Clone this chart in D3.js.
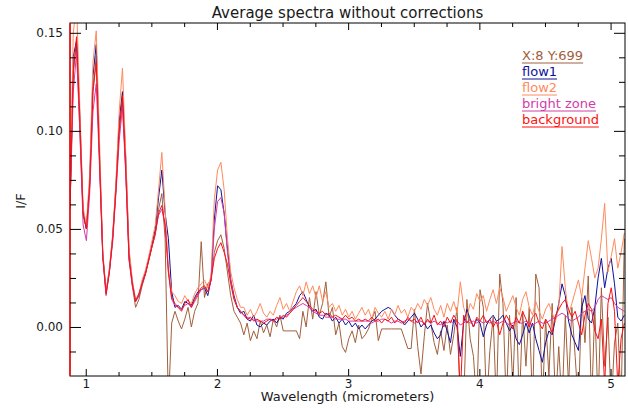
<!DOCTYPE html>
<html>
<head>
<meta charset="utf-8">
<script src="https://cdn.jsdelivr.net/npm/d3@7"></script>
<style>
  body { margin: 0; background: #fff; }
  text { font-family: "DejaVu Sans", sans-serif; fill: #1a1a1a; }
</style>
</head>
<body>
<svg id="chart" width="628" height="408"></svg>
<script>
// channel wavelengths (micrometers)
var wavelengths = [
  0.880,0.905,0.930,0.955,0.980,
  1.005,1.030,1.055,1.080,1.105,1.130,1.155,1.180,1.205,1.230,1.255,1.280,1.305,1.330,1.355,1.380,1.405,1.430,1.455,1.480,
  1.505,1.530,1.555,1.580,1.605,1.630,1.655,1.680,1.705,1.730,1.755,1.780,1.805,1.830,1.855,1.880,1.905,1.930,1.955,1.980,
  2.005,2.030,2.055,2.080,2.105,2.130,2.155,2.180,2.205,2.230,2.255,2.280,2.305,2.330,2.355,2.380,2.405,2.430,2.455,2.480,
  2.505,2.530,2.555,2.580,2.605,2.630,2.655,2.680,2.705,2.730,2.755,2.780,2.805,2.830,2.855,2.880,2.905,2.930,2.955,2.980,
  3.005,3.030,3.055,3.080,3.105,3.130,3.155,3.180,3.205,3.230,3.255,3.280,3.305,3.330,3.355,3.380,3.405,3.430,3.455,3.480,
  3.505,3.530,3.555,3.580,3.605,3.630,3.655,3.680,3.705,3.730,3.755,3.780,3.805,3.830,3.855,3.880,3.905,3.930,3.955,3.980,
  4.005,4.030,4.055,4.080,4.105,4.130,4.155,4.180,4.205,4.230,4.255,4.280,4.305,4.330,4.355,4.380,4.405,4.430,4.455,4.480,
  4.505,4.530,4.555,4.580,4.605,4.630,4.655,4.680,4.705,4.730,4.755,4.780,4.805,4.830,4.855,4.880,4.905,4.930,4.955,4.980,
  5.005,5.030,5.055,5.080,5.105
];

// X:8 Y:699
var pixelVals = [
  .060,.130,.145,.100,.057,.050,.072,.120,.138,.085,
  .036,.017,.028,.045,.070,.100,.115,.080,.035,.021,
  .010,.014,.021,.027,.034,.041,.047,.060,.068,.045,
  -.040,.002,.008,.003,-.001,.004,.010,.000,.008,.012,
  .0435,.015,.022,.024,.038,.044,.047,.040,.028,.016,
  .008,.005,.002,-.004,.002,-.007,-.002,-.006,.003,-.003,
  .001,-.005,.004,.000,.006,-.002,-.002,-.002,-.002,-.002,
  -.006,.008,.000,.015,.004,.018,.006,.012,.023,.005,
  .010,-.004,.002,-.010,-.013,-.006,-.002,-.008,.001,-.006,
  -.004,-.001,.004,.008,-.007,-.001,-.001,-.001,-.001,-.001,
  -.001,-.001,-.006,-.011,-.011,.009,-.010,-.024,-.005,.012,
  .002,-.008,-.014,-.002,-.012,.001,-.014,-.004,.010,-.040,
  -.040,.014,-.006,-.015,-.040,.019,.010,-.040,-.012,.005,
  -.040,.027,.012,-.040,.006,-.030,.015,-.040,.008,-.020,
  .010,-.040,.027,.020,-.040,.004,-.025,.012,-.040,-.010,
  -.040,.006,-.030,.010,-.015,-.040,.015,-.008,.026,-.040,
  .010,-.040,.020,-.020,.005,-.040,-.008,.002,-.040,.045
];

// flow1
var flow1Vals = [
  .060,.138,.146,.108,.058,.050,.074,.128,.144,.088,
  .037,.018,.029,.046,.072,.105,.120,.086,.038,.023,
  .013,.016,.023,.028,.035,.042,.050,.066,.080,.058,
  .045,.018,.010,.011,.009,.013,.012,.011,.015,.018,
  .019,.020,.016,.024,.055,.072,.070,.058,.040,.024,
  .016,.010,.007,.008,.004,.003,.006,.001,.000,.002,
  .001,.003,.004,.002,.005,.004,.007,.008,.010,.012,
  .016,.018,.014,.010,.008,.009,.005,.004,.007,.006,
  .003,.005,.002,.004,.001,.003,.000,.002,-.001,.001,
  -.001,.001,.003,.004,.006,.008,.009,.010,.009,.006,
  .004,.003,.001,.003,.005,.007,.004,.000,.002,-.001,
  .001,-.003,-.006,-.004,.003,-.002,-.008,.004,.000,-.015,
  .002,.009,.004,.000,.004,.002,-.005,.001,.004,.006,
  .003,.004,.006,.002,-.002,.001,-.006,-.009,-.004,.002,
  -.003,.002,-.006,-.012,-.018,-.008,-.002,-.004,.004,.012,
  .022,.016,.003,-.004,-.008,-.012,.010,.016,.004,.002,
  .010,.025,.035,.020,.030,.035,.022,.005,.003,.006
];

// flow2
var flow2Vals = [
  .065,.150,.165,.112,.061,.052,.078,.135,.151,.095,
  .038,.018,.030,.047,.074,.110,.132,.088,.040,.024,
  .014,.017,.024,.029,.036,.044,.052,.070,.089,.060,
  .030,.018,.016,.013,.012,.016,.013,.012,.017,.020,
  .022,.024,.020,.026,.065,.080,.084,.070,.045,.028,
  .020,.014,.010,.010,.006,.009,.005,.008,.012,.007,
  .005,.008,.006,.011,.015,.009,.012,.008,.013,.018,
  .021,.016,.023,.017,.021,.015,.021,.013,.018,.010,
  .012,.008,.011,.006,.009,.005,.008,.004,.007,.010,
  .006,.009,.004,.010,.007,.005,.008,.004,.009,.006,
  .011,.007,.009,.005,.010,.008,.012,.009,.014,.011,
  .015,.009,.006,.011,.005,.012,.008,.013,.007,.023,
  .010,.005,.012,.009,.017,.013,.016,.008,.014,.019,
  .012,.020,.015,.008,.012,.016,.010,.006,.014,.018,
  .010,.006,.013,.008,.004,.009,.012,.007,.003,.010,
  .041,.020,.006,.012,.018,.024,.015,.030,.044,.035,
  .025,.030,.045,.063,.028,.036,.045,.030,.038,.048
];

// bright zone
var brightVals = [
  .061,.120,.140,.100,.052,.044,.068,.110,.124,.082,
  .035,.016,.028,.043,.068,.095,.112,.078,.034,.021,
  .013,.016,.022,.027,.034,.041,.048,.057,.060,.052,
  .028,.014,.011,.010,.009,.011,.012,.010,.013,.016,
  .019,.020,.018,.024,.050,.064,.066,.058,.038,.024,
  .015,.010,.008,.006,.005,.004,.004,.003,.003,.003,
  .004,.004,.003,.004,.005,.005,.006,.007,.009,.010,
  .011,.012,.011,.010,.008,.007,.006,.006,.005,.005,
  .005,.004,.004,.004,.004,.003,.003,.003,.003,.003,
  .003,.003,.002,.003,.003,.004,.004,.003,.002,.003,
  .003,.002,.003,.004,.003,.002,.003,.003,.002,.003,
  .002,.003,.002,.001,.003,.002,.003,.002,.003,.001,
  .002,.003,.002,.003,.002,.003,.002,.003,.002,.003,
  .002,.002,.003,.002,.001,.002,.003,.002,.002,.003,
  .002,.001,.002,.003,.002,.002,.003,.004,.005,.006,
  .007,.006,.004,.003,.004,.005,.007,.008,.009,.008,
  .010,.014,.016,.015,.014,.015,.012,.010,.009,.008
];

// background
var backgroundVals = [
  .062,.130,.148,.105,.058,.050,.072,.120,.135,.085,
  .036,.017,.028,.045,.070,.100,.118,.080,.035,.022,
  .013,.017,.022,.027,.034,.041,.048,.058,.062,.052,
  .028,.015,.012,.010,.008,.012,.014,.010,.014,.017,
  .020,.021,.018,.024,.035,.040,.043,.038,.032,.022,
  .014,.010,.008,.006,.004,.005,.003,.004,.003,.002,
  .003,.004,.003,.005,.004,.006,.005,.007,.009,.011,
  .013,.015,.013,.011,.009,.008,.007,.008,.006,.007,
  .005,.006,.005,.004,.006,.004,.005,.003,.004,.003,
  .004,.003,.005,.003,.004,.002,.004,.003,.005,.002,
  .004,.003,.002,.005,.003,.004,.002,.005,.001,.004,
  .002,.006,.001,.003,.000,.005,.002,.006,.003,-.035,
  .006,.002,.004,.000,.005,.003,.006,.002,.004,.000,
  .003,-.004,.002,.006,.003,-.001,.005,.002,.008,.004,
  .000,.005,.007,.002,-.001,.004,.001,-.003,.006,.009,
  .012,.014,.009,.005,.008,.002,-.004,.006,.012,.009,
  -.002,-.006,.004,-.030,.012,.020,.008,-.030,-.006,.002
];

var seriesNames = ["X:8 Y:699", "flow1", "flow2", "bright zone", "background"];
var seriesColors = ["#a0603c", "#10109c", "#ff8a5c", "#d23ca8", "#ff1010"];
var seriesVals = [pixelVals, flow1Vals, flow2Vals, brightVals, backgroundVals];

var xTicks = [1, 2, 3, 4, 5];
var yTicks = [0.00, 0.05, 0.10, 0.15];
var yTickLabels = ["0.00", "0.05", "0.10", "0.15"];

var plotLeft = 70, plotRight = 625, plotTop = 23, plotBottom = 376;

var svg = d3.select("#chart");

var x = d3.scaleLinear().domain([0.88, 5.11]).range([plotLeft, plotRight]);
var y = d3.scaleLinear().domain([-0.025, 0.155]).range([plotBottom, plotTop]);

svg.append("defs").append("clipPath").attr("id", "plotclip")
  .append("rect")
  .attr("x", plotLeft).attr("y", plotTop)
  .attr("width", plotRight - plotLeft).attr("height", plotBottom - plotTop);

var plot = svg.append("g").attr("clip-path", "url(#plotclip)");

var line = d3.line()
  .x(function (d, i) { return x(wavelengths[i]); })
  .y(function (d) { return y(d); });

seriesVals.forEach(function (vals, k) {
  plot.append("path")
    .datum(vals)
    .attr("d", line)
    .attr("fill", "none")
    .attr("stroke", seriesColors[k])
    .attr("stroke-width", 1);
});

// frame
svg.append("rect")
  .attr("x", plotLeft).attr("y", plotTop)
  .attr("width", plotRight - plotLeft).attr("height", plotBottom - plotTop)
  .attr("fill", "none").attr("stroke", "#000").attr("stroke-width", 1);

// first background channel runs off scale: vertical red line over the left edge
svg.append("line")
  .attr("x1", x(wavelengths[0])).attr("x2", x(wavelengths[0]))
  .attr("y1", y.range()[0]).attr("y2", y.range()[1])
  .attr("stroke", seriesColors[4]).attr("stroke-width", 1.5);

var xMinor = d3.range(1, 5.01, 0.25).filter(function (v) { return xTicks.indexOf(v) < 0; });
var yMinor = d3.range(-0.0125, 0.151, 0.0125).filter(function (v) {
  return yTicks.every(function (t) { return Math.abs(t - v) > 1e-6; });
});

function styleAxis(g) {
  g.select(".domain").remove();
  g.selectAll("line").attr("stroke", "#000");
  g.selectAll("text").style("font-size", "12px").attr("fill", "#1a1a1a");
}

svg.append("g").attr("transform", "translate(0," + plotBottom + ")")
  .call(d3.axisBottom(x).tickValues(xTicks).tickSize(-7).tickPadding(3).tickFormat(d3.format("d")))
  .call(styleAxis);
svg.append("g").attr("transform", "translate(0," + plotBottom + ")")
  .call(d3.axisBottom(x).tickValues(xMinor).tickSize(-4).tickFormat(""))
  .call(styleAxis);
svg.append("g").attr("transform", "translate(0," + plotTop + ")")
  .call(d3.axisTop(x).tickValues(xTicks).tickSize(-7).tickFormat(""))
  .call(styleAxis);
svg.append("g").attr("transform", "translate(0," + plotTop + ")")
  .call(d3.axisTop(x).tickValues(xMinor).tickSize(-4).tickFormat(""))
  .call(styleAxis);

svg.append("g").attr("transform", "translate(" + plotLeft + ",0)")
  .call(d3.axisLeft(y).tickValues(yTicks).tickSize(-11).tickPadding(7)
    .tickFormat(function (d, i) { return yTickLabels[i]; }))
  .call(styleAxis);
svg.append("g").attr("transform", "translate(" + plotLeft + ",0)")
  .call(d3.axisLeft(y).tickValues(yMinor).tickSize(-6).tickFormat(""))
  .call(styleAxis);
svg.append("g").attr("transform", "translate(" + plotRight + ",0)")
  .call(d3.axisRight(y).tickValues(yTicks).tickSize(-11).tickFormat(""))
  .call(styleAxis);
svg.append("g").attr("transform", "translate(" + plotRight + ",0)")
  .call(d3.axisRight(y).tickValues(yMinor).tickSize(-6).tickFormat(""))
  .call(styleAxis);

// titles
svg.append("text")
  .attr("x", (plotLeft + plotRight) / 2).attr("y", 18)
  .attr("text-anchor", "middle")
  .style("font-size", "15px")
  .text("Average spectra without corrections");

svg.append("text")
  .attr("x", (plotLeft + plotRight) / 2).attr("y", 401)
  .attr("text-anchor", "middle")
  .style("font-size", "13px")
  .text("Wavelength (micrometers)");

svg.append("text")
  .attr("transform", "translate(25,201) rotate(-90)")
  .attr("text-anchor", "middle")
  .style("font-size", "13px")
  .text("I/F");

// legend
var legend = svg.append("g").attr("transform", "translate(522,60)");
seriesNames.forEach(function (name, k) {
  var t = legend.append("text")
    .attr("x", 0).attr("y", k * 16)
    .style("font-size", "13px")
    .style("fill", seriesColors[k])
    .text(name);
  var w = t.node().getComputedTextLength();
  legend.append("line")
    .attr("x1", 0).attr("x2", w)
    .attr("y1", k * 16 + 3).attr("y2", k * 16 + 3)
    .attr("stroke", seriesColors[k]).attr("stroke-width", 1);
});
</script>
</body>
</html>
